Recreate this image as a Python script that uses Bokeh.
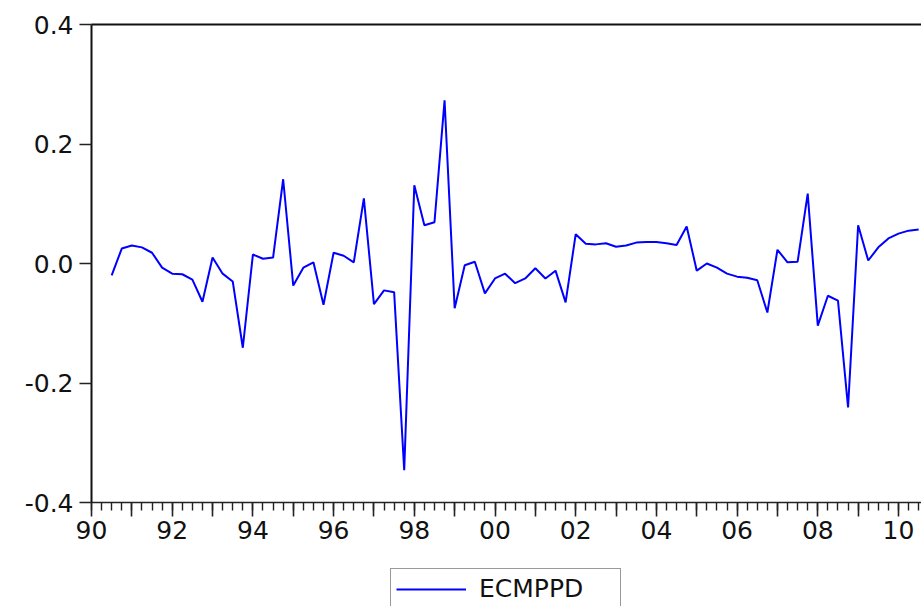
import pandas as pd
from bokeh.plotting import figure
from bokeh.layouts import column, row
from bokeh.models import (FixedTicker, LinearAxis, Range1d, Legend, LegendItem,
                          PrintfTickFormatter, Spacer)
from bokeh.embed import file_html
from bokeh.resources import INLINE

# ---- data -------------------------------------------------------------
series_name = "ECMPPD"
start_period = "1990Q3"
end_period = "2010Q3"
ecmppd = [
    -0.020, 0.025, 0.030, 0.027, 0.018, -0.007, -0.017, -0.018, -0.027, -0.064,
    0.010, -0.017, -0.030, -0.141, 0.015, 0.008, 0.010, 0.141, -0.037, -0.007,
    0.002, -0.069, 0.018, 0.013, 0.002, 0.109, -0.068, -0.045, -0.048, -0.346,
    0.131, 0.064, 0.069, 0.273, -0.075, -0.003, 0.003, -0.050, -0.025, -0.017,
    -0.033, -0.025, -0.008, -0.025, -0.012, -0.065, 0.049, 0.033, 0.032, 0.034,
    0.028, 0.030, 0.035, 0.036, 0.036, 0.034, 0.031, 0.062, -0.012, 0.000,
    -0.007, -0.017, -0.022, -0.024, -0.028, -0.082, 0.023, 0.002, 0.003, 0.117,
    -0.104, -0.054, -0.062, -0.241, 0.064, 0.005, 0.027, 0.042, 0.050, 0.055,
    0.057,
]
tick_years = list(range(1990, 2011))
tick_labels = ["90", "", "92", "", "94", "", "96", "", "98", "", "00", "",
               "02", "", "04", "", "06", "", "08", "", "10"]
y_ticks = [-0.4, -0.2, 0.0, 0.2, 0.4]

periods = pd.period_range(start_period, end_period, freq="Q")
x = [p.year + (p.quarter - 1) / 4 for p in periods]
minor_quarters = [tick_years[0] + k / 4 for k in range(0, 4 * len(tick_years) + 3)]

# ---- main figure --------------------------------------------------------
FONT = "DejaVu Sans"
LINE_COLOR = "#0000FF"
p = figure(width=921, height=568, output_backend="svg", toolbar_location=None,
           x_range=Range1d(1990, 2010.57), y_range=Range1d(-0.4, 0.4),
           x_axis_type=None, y_axis_type=None,
           min_border_left=91, min_border_right=0, min_border_top=24,
           min_border_bottom=66)
p.outline_line_color = None
p.xgrid.visible = False
p.ygrid.visible = False
p.background_fill_color = "white"
p.border_fill_color = "white"

p.line(x, ecmppd, line_color=LINE_COLOR, line_width=2)

# bottom axis
xa = LinearAxis(ticker=FixedTicker(ticks=tick_years, minor_ticks=minor_quarters),
                major_label_overrides={float(y): l for y, l in zip(tick_years, tick_labels)})
xa.axis_line_color = "#222222"
xa.axis_line_width = 1.6
xa.major_tick_line_color = "#222222"
xa.major_tick_line_width = 1.6
xa.minor_tick_line_color = "#222222"
xa.minor_tick_line_width = 1.4
xa.major_tick_out = 14
xa.major_tick_in = 0
xa.minor_tick_out = 8
xa.minor_tick_in = 0
xa.major_label_standoff = 4
xa.major_label_text_font = FONT
xa.major_label_text_font_size = "25px"
xa.major_label_text_color = "#111111"
p.add_layout(xa, "below")

# left axis
ya = LinearAxis(ticker=FixedTicker(ticks=y_ticks, minor_ticks=[]),
                formatter=PrintfTickFormatter(format="%.1f"))
ya.axis_line_color = "#111111"
ya.axis_line_width = 2
ya.major_tick_line_color = "#222222"
ya.major_tick_line_width = 1.6
ya.major_tick_out = 12
ya.major_tick_in = 0
ya.minor_tick_out = 0
ya.minor_tick_in = 0
ya.major_label_standoff = 6
ya.major_label_text_font = FONT
ya.major_label_text_font_size = "25px"
ya.major_label_text_color = "#111111"
p.add_layout(ya, "left")

# top frame line
ta = LinearAxis(ticker=FixedTicker(ticks=[], minor_ticks=[]))
ta.axis_line_color = "#111111"
ta.axis_line_width = 2
ta.major_tick_out = 0
ta.major_tick_in = 0
ta.minor_tick_out = 0
ta.minor_tick_in = 0
ta.major_label_text_font_size = "0px"
ta.major_label_standoff = 0
p.add_layout(ta, "above")

# ---- legend strip below ---------------------------------------------------
lf = figure(width=531, height=38, output_backend="svg", toolbar_location=None,
            x_range=Range1d(0, 1), y_range=Range1d(0, 1),
            x_axis_type=None, y_axis_type=None, min_border=0)
lf.outline_line_color = None
lf.xgrid.visible = False
lf.ygrid.visible = False
# legend key renderer (its data lies outside the strip's view)
lr = lf.line([5, 6], [5, 6], line_color=LINE_COLOR, line_width=2)
legend = Legend(items=[LegendItem(label=series_name, renderers=[lr])],
                location="top_left")
legend.border_line_color = "#333333"
legend.border_line_width = 1.2
legend.padding = 5
legend.margin = 0
legend.glyph_width = 70
legend.label_standoff = 13
legend.label_width = 136
legend.label_text_font = FONT
legend.label_text_font_size = "25px"
legend.label_text_color = "#111111"
lf.add_layout(legend, "center")

layout = column(p, row(Spacer(width=390, height=38), lf), spacing=0)

open("out.html", "w").write(file_html(layout, INLINE))
